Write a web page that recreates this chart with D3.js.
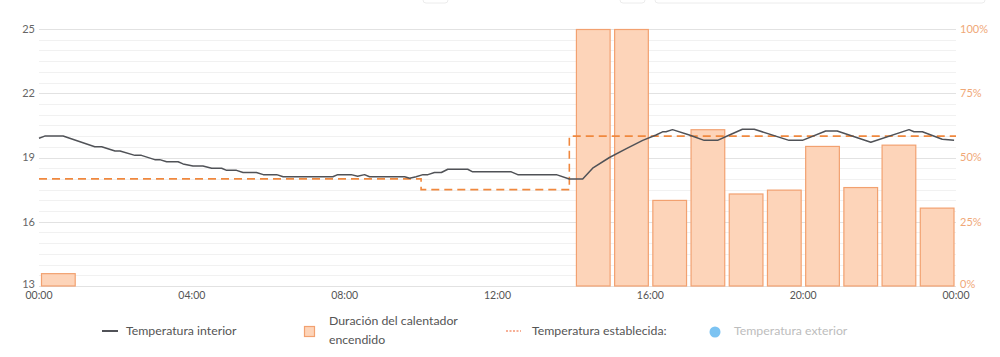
<!DOCTYPE html>
<html><head><meta charset="utf-8">
<script src="https://cdn.jsdelivr.net/npm/d3@7"></script>
<style>
html,body{margin:0;padding:0;background:#fff;}
svg{display:block;font-family:Lato, "Open Sans", sans-serif;}
</style></head>
<body>
<svg id="c" width="1000" height="357"></svg>
<script>
// ---- data ----
const tempTicks = [13, 16, 19, 22, 25];
const pctTicks = [0, 25, 50, 75, 100];
const timeTicks = [0, 4, 8, 12, 16, 20, 24];
const timeLabels = ["00:00", "04:00", "08:00", "12:00", "16:00", "20:00", "00:00"];

// heater on-duration per hour (%)
const heaterHours = [0, 14, 15, 16, 17, 18, 19, 20, 21, 22, 23];
const heaterPct   = [5, 100, 100, 33.5, 61, 36, 37.5, 54.5, 38.5, 55, 30.5];

// interior temperature (hour, °C)
const interiorHour = [0, 0.15, 0.63, 1.46, 1.64, 1.99, 2.12, 2.51, 2.68, 3.03, 3.16, 3.34, 3.64, 3.77, 4.03, 4.29, 4.52, 4.78, 4.91, 5.17, 5.34, 5.69, 5.87, 6.22, 6.39, 7.69, 7.82, 8.17, 8.34, 8.52, 8.65, 9.57, 9.70, 9.87, 10.05, 10.18, 10.35, 10.53, 10.70, 11.22, 11.35, 12.36, 12.53, 13.54, 13.88, 14.23, 14.49, 14.93, 15.36, 15.80, 16.15, 16.32, 16.41, 16.58, 17.02, 17.41, 17.76, 18.07, 18.41, 18.72, 19.63, 19.98, 20.59, 20.89, 21.77, 22.77, 22.90, 23.12, 23.64, 23.95];
const interiorTemp = [19.9, 20.0, 20.0, 19.5, 19.5, 19.3, 19.3, 19.1, 19.1, 18.9, 18.9, 18.8, 18.8, 18.7, 18.6, 18.6, 18.5, 18.5, 18.4, 18.4, 18.3, 18.3, 18.2, 18.2, 18.1, 18.1, 18.2, 18.2, 18.12, 18.2, 18.1, 18.1, 18.03, 18.1, 18.2, 18.2, 18.3, 18.3, 18.45, 18.45, 18.33, 18.33, 18.2, 18.2, 18.0, 18.0, 18.5, 19.0, 19.4, 19.8, 20.05, 20.2, 20.2, 20.3, 20.05, 19.8, 19.8, 20.05, 20.32, 20.32, 19.8, 19.8, 20.24, 20.24, 19.71, 20.3, 20.2, 20.2, 19.85, 19.8];

// set temperature (step after)
const setHour = [0, 10, 13.88, 24];
const setTemp = [18, 17.5, 20, 20];

// ---- layout ----
const svg = d3.select("#c");
const x = d3.scaleLinear().domain([0, 24]).range([39, 956]);
const y = d3.scaleLinear().domain([13, 25]).range([286, 29]);
const yp = d3.scaleLinear().domain([0, 100]).range([286, 29]);

// faint cut-off UI controls at top
const ui = svg.append("g").attr("fill", "none").attr("stroke", "#ececec");
[[423, 25], [620, 25], [655, 330]].forEach(([ux, uw]) => {
  ui.append("rect").attr("x", ux).attr("y", -10).attr("width", uw).attr("height", 13).attr("rx", 3);
});

// grid
const minor = d3.range(13, 25.01, 0.5);
svg.append("g").selectAll("line").data(minor).join("line")
  .attr("x1", x(0)).attr("x2", x(24))
  .attr("y1", d => Math.round(y(d)) + 0.5).attr("y2", d => Math.round(y(d)) + 0.5)
  .attr("stroke", d => (d - 13) % 3 === 0 ? "#e2e2e2" : "#f1f1f1")
  .attr("stroke-width", 1);

// bars
const bars = heaterHours.map((h, i) => ({h, v: heaterPct[i]}));
svg.append("g").selectAll("rect").data(bars).join("rect")
  .attr("x", d => x(d.h) + 2.5)
  .attr("y", d => yp(d.v) + 0.5)
  .attr("width", d => x(d.h + 1) - x(d.h) - 4.5)
  .attr("height", d => yp(0) - yp(d.v) - 0.5)
  .attr("fill", "#fdd4b9")
  .attr("stroke", "#f2a170")
  .attr("stroke-width", 1.2);

// set temperature
const setData = setHour.map((h, i) => ({h, t: setTemp[i]}));
svg.append("path").datum(setData)
  .attr("d", d3.line().x(d => x(d.h)).y(d => y(d.t)).curve(d3.curveStepAfter))
  .attr("fill", "none").attr("stroke", "#f0883e").attr("stroke-width", 1.6)
  .attr("stroke-dasharray", "8,5");

// interior temperature
const intData = interiorHour.map((h, i) => ({h, t: interiorTemp[i]}));
svg.append("path").datum(intData)
  .attr("d", d3.line().x(d => x(d.h)).y(d => y(d.t)))
  .attr("fill", "none").attr("stroke", "#505257").attr("stroke-width", 1.5)
  .attr("stroke-linejoin", "round");

// left axis labels
svg.append("g").selectAll("text").data(tempTicks).join("text")
  .attr("x", 35).attr("y", d => d === 13 ? y(d) - 2 : y(d)).attr("dy", "0.35em")
  .attr("text-anchor", "end").attr("font-size", 11).attr("fill", "#666")
  .text(d => d);

// right axis labels
svg.append("g").selectAll("text").data(pctTicks).join("text")
  .attr("x", 960).attr("y", d => d === 0 ? yp(d) - 2 : yp(d)).attr("dy", "0.35em")
  .attr("text-anchor", "start").attr("font-size", 11).attr("fill", "#f0a878")
  .text(d => d + "%");

// x axis labels
svg.append("g").selectAll("text").data(timeTicks).join("text")
  .attr("x", d => x(d)).attr("y", 295.5).attr("dy", "0.35em")
  .attr("text-anchor", "middle").attr("font-size", 10.5).attr("fill", "#555")
  .text((d, i) => timeLabels[i]);

// legend
const lg = svg.append("g").attr("font-size", 12.3);
lg.append("line").attr("x1", 102).attr("x2", 118).attr("y1", 331).attr("y2", 331)
  .attr("stroke", "#505257").attr("stroke-width", 2);
lg.append("text").attr("x", 126).attr("y", 331).attr("dy", "0.35em").attr("fill", "#555").text("Temperatura interior");

lg.append("rect").attr("x", 304.5).attr("y", 326.5).attr("width", 10).attr("height", 10)
  .attr("fill", "#fdd4b9").attr("stroke", "#f2a170").attr("stroke-width", 1.2);
lg.append("text").attr("x", 329).attr("y", 321).attr("dy", "0.35em").attr("fill", "#555").text("Duración del calentador");
lg.append("text").attr("x", 329).attr("y", 340).attr("dy", "0.35em").attr("fill", "#555").text("encendido");

lg.append("line").attr("x1", 506).attr("x2", 521).attr("y1", 331).attr("y2", 331)
  .attr("stroke", "#f0602e").attr("stroke-width", 1.2).attr("stroke-dasharray", "2,1.5");
lg.append("text").attr("x", 532).attr("y", 331).attr("dy", "0.35em").attr("fill", "#555").text("Temperatura establecida:");

lg.append("circle").attr("cx", 715).attr("cy", 332).attr("r", 5.5).attr("fill", "#7cc3f2");
lg.append("text").attr("x", 734).attr("y", 331).attr("dy", "0.35em").attr("fill", "#bdbdbd").text("Temperatura exterior");
</script>
</body></html>
